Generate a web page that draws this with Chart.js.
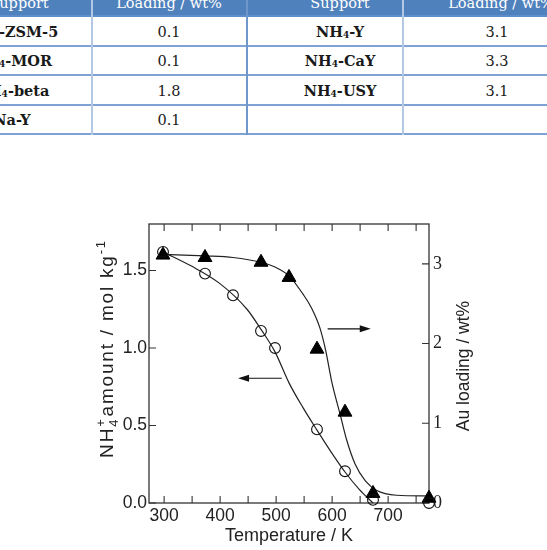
<!DOCTYPE html>
<html><head><meta charset="utf-8">
<script src="https://cdn.jsdelivr.net/npm/chart.js@4.4.0/dist/chart.umd.min.js"></script>
<style>
html,body{margin:0;padding:0;background:#fff;}
body{width:547px;height:550px;overflow:hidden;position:relative;}
#tbl{position:absolute;left:0;top:0;width:547px;height:140px;font-family:'DejaVu Serif','Liberation Serif',serif;}
.hdr{position:absolute;left:0;top:0;width:547px;height:16px;background:#4f81bd;}
.hl{position:absolute;left:0;width:547px;height:2px;background:#7ea2d3;}
.vl{position:absolute;top:0;height:135px;background:#b3c8e4;}
.cell{position:absolute;transform:translate(-50%,-50%);white-space:nowrap;font-size:14.5px;color:#1a1a1a;line-height:1.15;}
.b{font-weight:bold;}
.h{color:#fff;font-size:14.5px;}
sub{font-size:0.62em;vertical-align:-0.12em;line-height:0;}
#wrap{position:absolute;left:0;top:140px;width:547px;height:410px;}
</style></head>
<body>
<div id="tbl"></div>
<div id="wrap"><canvas id="c" width="547" height="410"></canvas></div>
<script>
// ---- table content ----
const headerLabels = ['Support', 'Loading / wt%', 'Support', 'Loading / wt%'];
const supportsLeft = ['NH4-ZSM-5', 'NH4-MOR', 'NH4-beta', 'Na-Y'];
const loadingsLeft = ['0.1', '0.1', '1.8', '0.1'];
const supportsRight = ['NH4-Y', 'NH4-CaY', 'NH4-USY'];
const loadingsRight = ['3.1', '3.3', '3.1'];

// ---- chart data ----
const tempCircles = [298, 373, 423, 473, 498, 573, 623, 673, 773];
const nh4Amount = [1.62, 1.48, 1.34, 1.11, 1.00, 0.475, 0.205, 0.02, 0.00];
const tempTriangles = [298, 373, 473, 523, 573, 623, 673, 773];
const auLoading = [3.11, 3.08, 3.02, 2.83, 1.93, 1.14, 0.12, 0.06];
const nh4FitTemp = [298, 348, 398, 448, 473, 498, 523, 548, 573, 598, 623, 648, 673];
const nh4FitValue = [1.62, 1.53, 1.42, 1.25, 1.12, 0.975, 0.775, 0.615, 0.47, 0.33, 0.20, 0.09, 0.0];
const auFitTemp = [298, 373, 423, 473, 498, 523, 548, 563, 578, 588, 600, 614, 626, 641, 659, 679, 715, 773];
const auFitValue = [3.12, 3.10, 3.08, 3.02, 2.96, 2.85, 2.62, 2.45, 2.20, 1.93, 1.50, 1.12, 0.79, 0.49, 0.28, 0.16, 0.097, 0.088];
const xTickLabels = [300, 400, 500, 600, 700];
const xTickMarks = [300, 350, 400, 450, 500, 550, 600, 650, 700, 750];
const yLeftTicks = [0, 0.5, 1.0, 1.5];
const yRightTicks = [0, 1, 2, 3];
const xTitle = 'Temperature / K';
const yRightTitle = 'Au loading / wt%';
const yLeftTitleParts = [{t: 'NH'}, {sub: '4', sup: '+'}, {t: 'amount / mol kg'}, {sup: '-1'}];
// arrows (data units): [startX, endX, y, axis]
const arrowNH4 = [510, 432, 0.805, 'y'];
const arrowAu = [592, 669, 2.185, 'y1'];

// ---- build table ----
(function () {
  const tbl = document.getElementById('tbl');
  const fmt = s => s.replace('NH4', 'NH<sub>4</sub>');
  let html = '<div class="hdr"></div>';
  const hx = [19, 169, 340, 501];
  headerLabels.forEach((h, i) => {
    html += `<div class="cell h" style="left:${hx[i]}px;top:3px">${h}</div>`;
  });
  [16, 45.5, 75, 104.5, 134].forEach((y, i) => {
    html += `<div class="hl" style="top:${y - 1}px;${i === 0 ? 'background:#5f8ccb;' : ''}"></div>`;
  });
  html += `<div class="vl" style="left:91px;width:1.5px"></div>`;
  html += `<div class="vl" style="left:246px;width:2px;background:#6f97cc"></div>`;
  html += `<div class="vl" style="left:402px;width:1.5px"></div>`;
  const rowY = [31.5, 61, 90.5, 120];
  supportsLeft.forEach((s, i) => {
    html += `<div class="cell b" style="left:12px;top:${rowY[i]}px">${fmt(s)}</div>`;
    html += `<div class="cell" style="left:169px;top:${rowY[i]}px">${loadingsLeft[i]}</div>`;
  });
  supportsRight.forEach((s, i) => {
    html += `<div class="cell b" style="left:340px;top:${rowY[i]}px">${fmt(s)}</div>`;
    html += `<div class="cell" style="left:497px;top:${rowY[i]}px">${loadingsRight[i]}</div>`;
  });
  tbl.innerHTML = html;
})();

// ---- chart ----
const SANS = "'Liberation Sans', Arial, sans-serif";
const SERIF = "'Liberation Serif', 'Times New Roman', serif";
const INK = '#222';

const decor = {
  id: 'decor',
  beforeDatasetsDraw(chart) {
    const {ctx, chartArea: a, scales} = chart;
    ctx.save();
    ctx.strokeStyle = '#333';
    ctx.lineWidth = 1.3;
    ctx.strokeRect(a.left, a.top, a.right - a.left, a.bottom - a.top);
    ctx.lineWidth = 1.1;
    const L = 7;
    ctx.beginPath();
    xTickMarks.forEach(v => {
      const px = scales.x.getPixelForValue(v);
      ctx.moveTo(px, a.bottom); ctx.lineTo(px, a.bottom - L);
      ctx.moveTo(px, a.top); ctx.lineTo(px, a.top + L);
    });
    yLeftTicks.forEach(v => {
      const py = scales.y.getPixelForValue(v);
      ctx.moveTo(a.left, py); ctx.lineTo(a.left + L, py);
    });
    yRightTicks.forEach(v => {
      const py = scales.y1.getPixelForValue(v);
      ctx.moveTo(a.right, py); ctx.lineTo(a.right - L, py);
    });
    ctx.stroke();
    ctx.restore();
  },
  afterDraw(chart) {
    const {ctx, scales} = chart;
    ctx.save();
    // arrows
    [arrowNH4, arrowAu].forEach(([x0, x1, yv, ax]) => {
      const px0 = scales.x.getPixelForValue(x0);
      const px1 = scales.x.getPixelForValue(x1);
      const py = scales[ax].getPixelForValue(yv);
      const dir = Math.sign(px1 - px0);
      ctx.strokeStyle = '#111'; ctx.fillStyle = '#111'; ctx.lineWidth = 1.2;
      ctx.beginPath(); ctx.moveTo(px0, py); ctx.lineTo(px1 - dir * 8, py); ctx.stroke();
      ctx.beginPath();
      ctx.moveTo(px1, py);
      ctx.lineTo(px1 - dir * 11, py - 3.5);
      ctx.lineTo(px1 - dir * 11, py + 3.5);
      ctx.closePath(); ctx.fill();
    });
    // right title
    ctx.fillStyle = INK;
    ctx.font = `17.5px ${SANS}`;
    ctx.textAlign = 'center';
    ctx.textBaseline = 'alphabetic';
    ctx.save();
    ctx.translate(468.5, 226);
    ctx.rotate(-Math.PI / 2);
    ctx.fillText(yRightTitle, 0, 0);
    ctx.restore();
    // left title with sub/superscripts
    const big = 19, small = 13, spacing = 1.8;
    ctx.letterSpacing = spacing + 'px';
    const parts = yLeftTitleParts.map(p => {
      if (p.t) { ctx.font = `${big}px ${SANS}`; return {...p, w: ctx.measureText(p.t).width}; }
      ctx.font = `${small}px ${SANS}`;
      const w = Math.max(p.sub ? ctx.measureText(p.sub).width : 0, p.sup ? ctx.measureText(p.sup).width : 0);
      return {...p, w: w + 1};
    });
    const total = parts.reduce((s, p) => s + p.w, 0);
    ctx.save();
    ctx.translate(113, 208);
    ctx.rotate(-Math.PI / 2);
    ctx.textAlign = 'left';
    let x = -total / 2;
    parts.forEach(p => {
      if (p.t) { ctx.font = `${big}px ${SANS}`; ctx.fillText(p.t, x, 0); }
      else {
        ctx.font = `${small}px ${SANS}`;
        if (p.sub) ctx.fillText(p.sub, x, 5);
        if (p.sup) ctx.fillText(p.sup, x, -8.5);
      }
      x += p.w;
    });
    ctx.restore();
    ctx.letterSpacing = '0px';
    ctx.restore();
  }
};

new Chart(document.getElementById('c'), {
  type: 'scatter',
  data: {
    datasets: [
      {
        data: tempCircles.map((t, i) => ({x: t, y: nh4Amount[i]})),
        yAxisID: 'y', pointStyle: 'circle', pointRadius: 5.4,
        pointBackgroundColor: 'rgba(255,255,255,0)', pointBorderColor: '#111', pointBorderWidth: 1.1,
        showLine: false, clip: false
      },
      {
        data: tempTriangles.map((t, i) => ({x: t, y: auLoading[i]})),
        yAxisID: 'y1', pointStyle: 'triangle', pointRadius: 8,
        pointBackgroundColor: '#000', pointBorderColor: '#000', pointBorderWidth: 1,
        showLine: false, clip: false
      },
      {
        data: nh4FitTemp.map((t, i) => ({x: t, y: nh4FitValue[i]})),
        yAxisID: 'y', showLine: true, pointRadius: 0, borderColor: '#222', borderWidth: 1.2,
        cubicInterpolationMode: 'monotone', fill: false
      },
      {
        data: auFitTemp.map((t, i) => ({x: t, y: auFitValue[i]})),
        yAxisID: 'y1', showLine: true, pointRadius: 0, borderColor: '#222', borderWidth: 1.2,
        cubicInterpolationMode: 'monotone', fill: false
      }
    ]
  },
  options: {
    responsive: false,
    animation: false,
    devicePixelRatio: 1,
    layout: {padding: {top: 84, left: 0, right: 0, bottom: 0}},
    plugins: {legend: {display: false}, tooltip: {enabled: false}},
    events: [],
    scales: {
      x: {
        type: 'linear', position: 'bottom', min: 273, max: 773,
        afterFit: s => { s.height = 47; },
        afterBuildTicks: s => { s.ticks = xTickLabels.map(v => ({value: v})); },
        grid: {display: false, drawTicks: false},
        border: {display: false},
        ticks: {font: {family: SANS, size: 17.5}, color: INK, padding: 3, maxRotation: 0, callback: v => String(v)},
        title: {display: true, text: xTitle, font: {family: SANS, size: 18}, color: INK, padding: {top: 0, bottom: 3}}
      },
      y: {
        type: 'linear', position: 'left', min: 0, max: 1.8,
        afterFit: s => { s.width = 149; },
        afterBuildTicks: s => { s.ticks = yLeftTicks.map(v => ({value: v})); },
        grid: {display: false, drawTicks: false},
        border: {display: false},
        ticks: {font: {family: SANS, size: 17.5}, color: INK, padding: 2, callback: v => v.toFixed(1)}
      },
      y1: {
        type: 'linear', position: 'right', min: 0, max: 3.5,
        afterFit: s => { s.width = 118; },
        afterBuildTicks: s => { s.ticks = yRightTicks.map(v => ({value: v})); },
        grid: {display: false, drawTicks: false},
        border: {display: false},
        ticks: {font: {family: SERIF, size: 18}, color: INK, padding: 4, callback: v => String(v)}
      }
    }
  },
  plugins: [decor]
});
</script>
</body></html>
